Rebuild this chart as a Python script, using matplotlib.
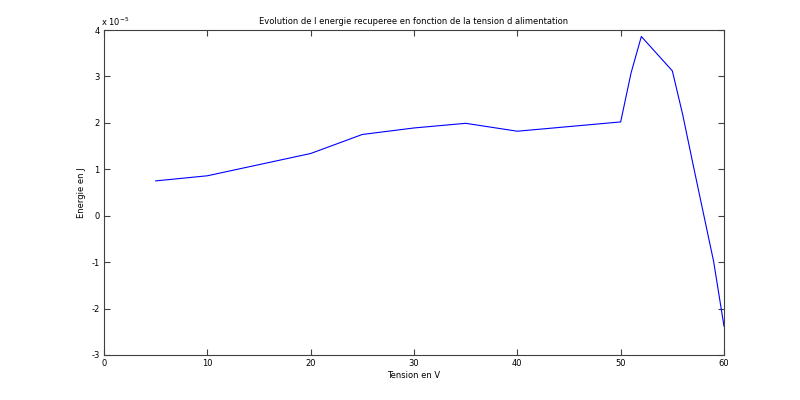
import matplotlib.pyplot as plt
import numpy as np

# tension d'alimentation (V) et energie recuperee (x 1e-5 J)
tension = [5, 10, 20, 25, 30, 35, 40, 45, 50, 51, 52, 55, 56, 57, 58, 59, 60]
energie = [0.75, 0.86, 1.34, 1.75, 1.89, 1.99, 1.82, 1.92, 2.02, 3.07, 3.86,
           3.12, 2.18, 1.11, 0.06, -0.99, -2.38]

plt.rcParams['font.family'] = 'DejaVu Sans'
plt.rcParams['font.size'] = 6
plt.rcParams['axes.unicode_minus'] = False

fig = plt.figure(figsize=(8, 4), dpi=100)
ax = fig.add_axes([0.13, 0.1125, 0.775, 0.8125])
ax.plot(tension, energie, color='#0000ff', linewidth=0.8)

ax.set_xlim(0, 60)
ax.set_ylim(-3, 4)
ax.set_xticks(np.arange(0, 61, 10))
ax.set_yticks(np.arange(-3, 5, 1))
ax.tick_params(direction='in', top=True, right=True, length=4, width=0.8,
               color='#404040', labelsize=6, pad=3)
for s in ax.spines.values():
    s.set_color('#404040')
    s.set_linewidth(0.8)

ax.set_title('Evolution de l energie recuperee en fonction de la tension d alimentation',
             fontsize=6, pad=4)
ax.set_xlabel('Tension en V', fontsize=6, labelpad=2)
ax.set_ylabel('Energie en J', fontsize=6, labelpad=4)
ax.text(-0.005, 1.005, r'x 10$^{-5}$', transform=ax.transAxes, fontsize=6,
        ha='left', va='bottom')

plt.savefig('out.png', dpi=100)
